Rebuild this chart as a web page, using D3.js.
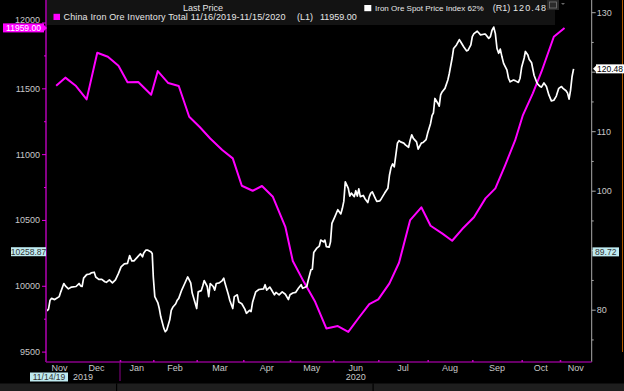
<!DOCTYPE html>
<html><head><meta charset="utf-8">
<script src="https://cdn.jsdelivr.net/npm/d3@7"></script>
<style>html,body{margin:0;padding:0;background:#000;overflow:hidden}svg{display:block}</style>
</head><body><script>
// ---------- DATA ----------
const spotDates = ["2019-11-14","2019-11-15","2019-11-16","2019-11-17","2019-11-19","2019-11-22","2019-11-23","2019-11-25","2019-11-26","2019-11-28","2019-11-30",
"2019-12-03","2019-12-05","2019-12-06","2019-12-07","2019-12-08","2019-12-10","2019-12-12","2019-12-13","2019-12-15","2019-12-16","2019-12-18","2019-12-20","2019-12-22","2019-12-23","2019-12-25","2019-12-27","2019-12-29","2019-12-31",
"2020-01-02","2020-01-05","2020-01-08","2020-01-10","2020-01-12","2020-01-14","2020-01-17","2020-01-20","2020-01-22","2020-01-23","2020-01-25","2020-01-27","2020-01-30","2020-01-31",
"2020-02-01","2020-02-02","2020-02-04","2020-02-05","2020-02-06","2020-02-08","2020-02-09","2020-02-10","2020-02-12","2020-02-13","2020-02-14","2020-02-16","2020-02-17","2020-02-18","2020-02-20","2020-02-22","2020-02-24","2020-02-26","2020-02-27","2020-02-29",
"2020-03-01","2020-03-02","2020-03-04","2020-03-05","2020-03-06","2020-03-08","2020-03-09","2020-03-10","2020-03-12","2020-03-13","2020-03-14","2020-03-16","2020-03-18","2020-03-19","2020-03-20","2020-03-22","2020-03-23","2020-03-25","2020-03-26","2020-03-28","2020-03-29","2020-03-31",
"2020-04-02","2020-04-03","2020-04-05","2020-04-06","2020-04-07","2020-04-09","2020-04-11","2020-04-14","2020-04-15","2020-04-16","2020-04-18","2020-04-19","2020-04-21","2020-04-22","2020-04-24","2020-04-26","2020-04-28","2020-04-30",
"2020-05-01","2020-05-03","2020-05-05","2020-05-07","2020-05-09","2020-05-10","2020-05-13","2020-05-14","2020-05-16","2020-05-17","2020-05-18","2020-05-20","2020-05-22","2020-05-23","2020-05-25","2020-05-26","2020-05-27","2020-05-29","2020-05-30","2020-05-31",
"2020-06-02","2020-06-04","2020-06-06","2020-06-07","2020-06-08","2020-06-09","2020-06-11","2020-06-12","2020-06-13","2020-06-15","2020-06-16","2020-06-17","2020-06-18","2020-06-19","2020-06-21","2020-06-22","2020-06-24","2020-06-25","2020-06-26","2020-06-27","2020-06-29","2020-06-30",
"2020-07-02","2020-07-03","2020-07-05","2020-07-07","2020-07-08","2020-07-09","2020-07-10","2020-07-11","2020-07-13","2020-07-14","2020-07-15","2020-07-17","2020-07-18","2020-07-20","2020-07-21","2020-07-22","2020-07-23","2020-07-25","2020-07-26","2020-07-28","2020-07-29","2020-07-31",
"2020-08-01","2020-08-03","2020-08-04","2020-08-05","2020-08-06","2020-08-08","2020-08-09","2020-08-10","2020-08-11","2020-08-13","2020-08-15","2020-08-16","2020-08-18","2020-08-19","2020-08-21","2020-08-23","2020-08-24","2020-08-26","2020-08-28","2020-08-29","2020-08-31",
"2020-09-01","2020-09-02","2020-09-04","2020-09-05","2020-09-06","2020-09-08","2020-09-09","2020-09-11","2020-09-12","2020-09-13","2020-09-14","2020-09-15","2020-09-16","2020-09-17","2020-09-18","2020-09-19","2020-09-20","2020-09-22","2020-09-23","2020-09-24","2020-09-26","2020-09-27","2020-09-29","2020-09-30",
"2020-10-01","2020-10-03","2020-10-04","2020-10-06","2020-10-07","2020-10-09","2020-10-11","2020-10-13","2020-10-14","2020-10-16","2020-10-17","2020-10-19","2020-10-21","2020-10-23","2020-10-25","2020-10-27","2020-10-29","2020-10-31",
"2020-11-02","2020-11-03","2020-11-05","2020-11-06","2020-11-07","2020-11-08","2020-11-09","2020-11-10"];
const spotValues = [79.8,80.1,81.6,81.9,81.7,82.2,83.0,84.4,84.0,83.5,83.8,
83.9,84.4,84.0,83.9,85.3,85.9,86.0,86.2,86.3,85.5,85.1,85.1,84.7,84.6,85.0,84.5,85.0,86.1,
87.2,87.7,87.8,89.1,88.2,88.2,88.8,89.4,88.9,89.5,90.0,90.0,89.7,89.4,
85.5,82.2,81.2,80.2,78.8,76.9,76.3,76.6,78.3,79.9,80.4,81.0,81.6,81.9,83.3,84.4,85.5,84.5,82.8,81.1,
80.2,83.0,83.2,84.0,84.9,83.9,82.2,84.4,83.9,83.3,84.4,84.5,84.9,85.3,84.3,82.6,81.6,80.2,82.2,82.5,81.3,81.0,
80.1,79.4,79.9,79.7,81.3,83.0,83.4,83.5,84.2,83.3,83.8,83.4,82.5,82.9,82.5,83.0,82.6,81.7,
82.5,82.8,82.9,83.6,84.2,83.6,83.9,84.9,86.7,86.8,89.6,90.3,90.7,91.7,91.4,91.7,90.6,90.5,91.4,94.5,
95.6,96.8,96.1,97.0,98.2,101.5,100.4,99.1,99.6,99.0,100.0,99.1,100.3,99.0,99.2,98.7,98.0,99.0,99.6,99.8,98.7,98.2,
98.3,98.7,99.6,100.4,102.6,103.9,104.5,104.0,108.0,108.4,108.2,108.0,107.7,107.3,108.5,109.4,108.8,108.2,107.0,108.0,108.1,108.6,
109.7,111.3,112.6,113.1,115.5,114.7,114.2,116.1,116.6,117.2,118.6,119.7,122.3,123.9,124.5,125.4,125.0,124.2,123.5,123.6,124.5,
125.9,126.4,126.8,126.5,126.2,126.3,126.3,125.6,125.9,127.0,127.5,126.4,123.9,123.1,123.8,122.5,121.4,120.3,118.9,118.3,118.6,118.5,118.2,118.9,
120.8,122.3,123.4,122.8,122.1,121.5,119.4,118.3,117.9,117.5,117.4,118.1,117.5,116.1,115.1,115.2,115.9,117.2,
117.5,117.2,116.8,116.4,115.4,116.9,119.2,120.48];

const invDates = ["2019-11-20","2019-11-26","2019-12-03","2019-12-10","2019-12-17","2019-12-24","2019-12-31","2020-01-08","2020-01-18","2020-01-30",
"2020-02-04","2020-02-11","2020-02-18","2020-02-25","2020-03-03","2020-03-10","2020-03-18","2020-03-25","2020-03-31","2020-04-07",
"2020-04-13","2020-04-20","2020-04-28","2020-05-03","2020-05-11","2020-05-19","2020-05-27","2020-06-04","2020-06-11","2020-06-18",
"2020-06-25","2020-07-01","2020-07-08","2020-07-14","2020-07-21","2020-07-28","2020-08-03","2020-08-11","2020-08-18","2020-08-25",
"2020-09-02","2020-09-09","2020-09-15","2020-09-21","2020-09-27","2020-10-02","2020-10-10","2020-10-17","2020-10-27","2020-11-04"];
const invValues = [11520,11581,11517,11416,11770,11740,11672,11546,11548,11451,
11631,11540,11518,11284,11206,11119,11032,10968,10760,10722,
10758,10676,10448,10188,10028,9878,9676,9694,9650,9757,
9861,9897,10018,10175,10499,10596,10456,10398,10342,10431,
10520,10664,10740,10917,11104,11297,11462,11626,11892,11959];

const leftTicks = [9500,10000,10500,11000,11500,12000];
const leftMinor = [9750,10250,10750,11250,11750];
const rightTicks = [80,90,100,110,120,130];
const rightMinor = [75,85,95,105,115,125];
const rightHiddenLabels = [90,120]; // covered by value tags in the reference
const monthStarts = ["2019-11-01","2019-12-01","2020-01-01","2020-02-01","2020-03-01","2020-04-01","2020-05-01","2020-06-01","2020-07-01","2020-08-01","2020-09-01","2020-10-01","2020-11-01","2020-12-01"];
const monthLabels = ["Nov","Dec","Jan","Feb","Mar","Apr","May","Jun","Jul","Aug","Sep","Oct","Nov"];
const monthTickDates = ["2020-01-01","2020-02-01","2020-03-01","2020-04-01","2020-05-01","2020-06-01","2020-07-01","2020-08-01","2020-09-01","2020-10-01","2020-11-01"];

// ---------- LAYOUT ----------
const W = 624, H = 391;
const L = 46, R = 591.7, T = 0, B = 362;
const parse = d3.timeParse("%Y-%m-%d");
// Bloomberg trading-day axis: month boundaries are unevenly spaced
const xKnots = ["2019-11-14","2019-12-01","2020-01-01","2020-02-01","2020-03-01","2020-04-01","2020-05-01","2020-06-01","2020-07-01","2020-08-01","2020-09-01","2020-10-01","2020-11-01","2020-11-22"].map(parse);
const xPx = [47,73,120,153.3,196.7,243.3,290,333.3,378.3,427.7,472.3,521.7,560,591.7];
const x = d3.scaleTime().domain(xKnots).range(xPx);
const yL = d3.scaleLinear().domain([9500,12000]).range([351.6,22.5]);
const yR = d3.scaleLinear().domain([80,130]).range([309.7,12.2]);

const FONT = "'Liberation Sans', Arial, sans-serif";
const svg = d3.select("body").append("svg").attr("width",W).attr("height",H)
  .style("font-family",FONT);
svg.append("rect").attr("width",W).attr("height",H).attr("fill","#000");

// legend background
svg.append("rect").attr("x",L+1).attr("y",0).attr("width",555-L-1).attr("height",25).attr("fill","#131313");

// clip
svg.append("clipPath").attr("id","plot").append("rect").attr("x",L+1).attr("y",T).attr("width",R-L-1).attr("height",B-T);

const spot = spotDates.map((d,i)=>({d:parse(d),v:spotValues[i]}));
const inv = invDates.map((d,i)=>({d:parse(d),v:invValues[i]}));

const plot = svg.append("g").attr("clip-path","url(#plot)");
plot.append("path").datum(inv)
  .attr("d", d3.line().x(d=>x(d.d)).y(d=>yL(d.v)))
  .attr("fill","none").attr("stroke","#ff00ff").attr("stroke-width",2).attr("stroke-linejoin","round");
plot.append("path").datum(spot)
  .attr("d", d3.line().x(d=>x(d.d)).y(d=>yR(d.v)))
  .attr("fill","none").attr("stroke","#ffffff").attr("stroke-width",1.7).attr("stroke-linejoin","round");

// ---------- LEFT AXIS ----------
const gL = svg.append("g").attr("transform",`translate(${L},0)`)
  .call(d3.axisLeft(yL).tickValues(leftTicks).tickSize(4).tickPadding(2).tickFormat(d3.format("d")));
gL.select(".domain").remove();
gL.selectAll(".tick line").attr("stroke","#e000e0");
gL.selectAll(".tick text").attr("fill","#c8c8c8").style("font-size","9px").style("font-family",FONT);
gL.selectAll(".tick").filter(d=>d===12000).select("text").attr("dy","-0.05em");
const gLm = svg.append("g").attr("transform",`translate(${L},0)`)
  .call(d3.axisLeft(yL).tickValues(leftMinor).tickSize(2).tickFormat(""));
gLm.select(".domain").remove();
gLm.selectAll(".tick line").attr("stroke","#e000e0");
svg.append("line").attr("x1",L).attr("x2",L).attr("y1",0).attr("y2",B).attr("stroke","#e000e0").attr("stroke-width",1.2);

// ---------- RIGHT AXIS ----------
const gR = svg.append("g").attr("transform",`translate(${R},0)`)
  .call(d3.axisRight(yR).tickValues(rightTicks).tickSize(4).tickPadding(1)
    .tickFormat(d=>rightHiddenLabels.includes(d)?"":d3.format("d")(d)));
gR.select(".domain").remove();
gR.selectAll(".tick line").attr("stroke","#aaaaaa");
gR.selectAll(".tick text").attr("fill","#c8c8c8").style("font-size","9px").style("font-family",FONT);
const gRm = svg.append("g").attr("transform",`translate(${R},0)`)
  .call(d3.axisRight(yR).tickValues(rightMinor).tickSize(2).tickFormat(""));
gRm.select(".domain").remove();
gRm.selectAll(".tick line").attr("stroke","#aaaaaa");
svg.append("line").attr("x1",R).attr("x2",R).attr("y1",0).attr("y2",B).attr("stroke","#aaaaaa").attr("stroke-width",1);

// right orange border
svg.append("line").attr("x1",622.5).attr("x2",622.5).attr("y1",0).attr("y2",352).attr("stroke","#b35a00").attr("stroke-width",1);

// ---------- BOTTOM AXIS ----------
svg.append("line").attr("x1",L).attr("x2",R).attr("y1",B).attr("y2",B).attr("stroke","#8a008a").attr("stroke-width",1.4);
const gB = svg.append("g").attr("transform",`translate(0,${B})`)
  .call(d3.axisTop(x).tickValues(monthTickDates.map(parse)).tickSize(2).tickFormat(""));
gB.select(".domain").remove();
gB.selectAll(".tick line").attr("stroke","#c000c0").attr("stroke-width",1.5);

const ms = monthStarts.map(parse);
monthLabels.forEach((lab,i)=>{
  const a = Math.max(L, x(ms[i])), b = Math.min(R, x(ms[i+1]));
  svg.append("text").attr("x",(a+b)/2).attr("y",370.5).attr("text-anchor","middle")
    .attr("fill","#c8c8c8").style("font-size","9px").text(lab);
});
// year divider
svg.append("line").attr("x1",x(parse("2020-01-01"))).attr("x2",x(parse("2020-01-01"))).attr("y1",B).attr("y2",381).attr("stroke","#8a008a").attr("stroke-width",1);
svg.append("text").attr("x",x(parse("2019-12-01"))).attr("y",379.5).attr("fill","#c8c8c8").style("font-size","9px").text("2019");
svg.append("text").attr("x",(x(parse("2020-06-01"))+x(parse("2020-07-01")))/2).attr("y",379.5).attr("text-anchor","middle").attr("fill","#c8c8c8").style("font-size","9px").text("2020");
// start-date tag
svg.append("rect").attr("x",30).attr("y",372.5).attr("width",38).attr("height",9).attr("fill","#bfeaf0");
svg.append("text").attr("x",49).attr("y",380.2).attr("text-anchor","middle").attr("fill","#333").style("font-size","8.5px").text("11/14/19");

// bottom band
svg.append("rect").attr("x",0).attr("y",383.5).attr("width",W).attr("height",H-383.5).attr("fill","#1e1e1e");
svg.append("rect").attr("x",116).attr("y",383.5).attr("width",1.2).attr("height",H-383.5).attr("fill","#000");
svg.append("rect").attr("x",372.5).attr("y",383.5).attr("width",1.2).attr("height",H-383.5).attr("fill","#000");

// ---------- TAGS ----------
function tag(x0, w, yc, fill, color, txt, ptr){
  const h = 9;
  const g = svg.append("g");
  g.append("rect").attr("x",x0).attr("y",yc-h/2).attr("width",w).attr("height",h).attr("fill",fill);
  if(ptr==="right") g.append("path").attr("d",`M${x0+w},${yc-3}L${x0+w+3},${yc}L${x0+w},${yc+3}Z`).attr("fill",fill);
  if(ptr==="left") g.append("path").attr("d",`M${x0},${yc-3}L${x0-3},${yc}L${x0},${yc+3}Z`).attr("fill",fill);
  g.append("text").attr("x",x0+w/2).attr("y",yc+3.2).attr("text-anchor","middle").attr("fill",color).style("font-size","8.5px").text(txt);
}
tag(3, 41, yL(invValues[invValues.length-1]), "#ff00ff", "#ffffff", "11959.00", "right");
tag(11, 35, yL(10258.87), "#bfeaf0", "#333333", "10258.87", null);
tag(592.5, 26.5, yR(89.72), "#bfeaf0", "#333333", "89.72", null);
tag(596, 28, yR(spotValues[spotValues.length-1]), "#ffffff", "#000000", "120.48", "left");

// ---------- LEGEND ----------
function ltext(x0, y0, size, txt, len){
  const t = svg.append("text").attr("x",x0).attr("y",y0).attr("fill","#e6e6e6").style("font-size",size+"px").text(txt);
  if(len) t.attr("textLength",len).attr("lengthAdjust","spacing");
}
ltext(183, 11, 9, "Last Price");
svg.append("rect").attr("x",53.5).attr("y",13.8).attr("width",6.5).attr("height",6.2).attr("fill","#ff00ff");
ltext(63.5, 20.3, 9, "China Iron Ore Inventory Total 11/16/2019-11/15/2020", 222);
ltext(297, 20.3, 9, "(L1)");
ltext(320, 20.3, 9, "11959.00");
svg.append("rect").attr("x",364.3).attr("y",5).attr("width",7).attr("height",6.2).attr("fill","#ffffff");
ltext(375, 11.3, 8, "Iron Ore Spot Price Index 62%");
ltext(492.7, 11.3, 9, "(R1)");
ltext(513, 11.3, 9, "120.48", 33);
// small toolbar icon
svg.append("rect").attr("x",547).attr("y",0).attr("width",12).attr("height",10).attr("fill","#2a2a2a");
svg.append("rect").attr("x",549.5).attr("y",2).attr("width",7).attr("height",6).attr("fill","none").attr("stroke","#777").attr("stroke-width",0.8);
svg.append("path").attr("d","M561,3L565,3L563,5Z").attr("fill","#666");
</script></body></html>
